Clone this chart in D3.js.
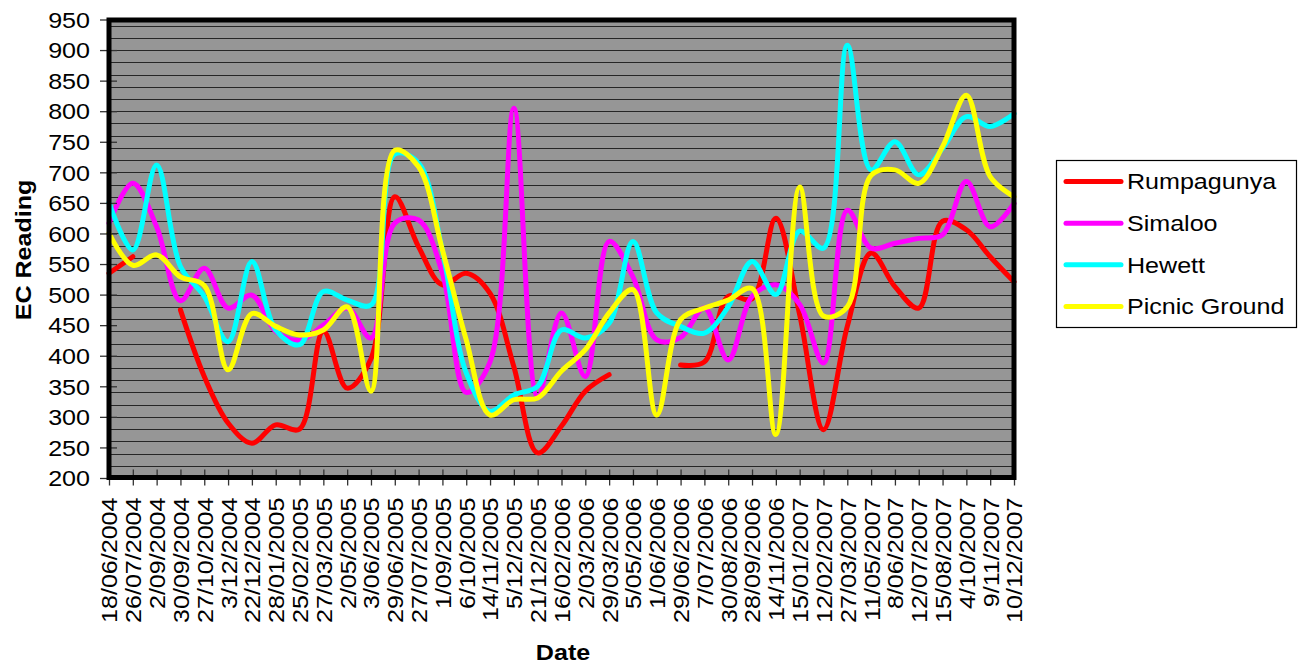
<!DOCTYPE html>
<html>
<head>
<meta charset="utf-8">
<script src="https://cdn.jsdelivr.net/npm/d3@7"></script>
<style>
body { margin: 0; background: #fff; }
text { font-family: "Liberation Sans", Arial, sans-serif; fill: #000; }
</style>
</head>
<body>
<svg id="chart" width="1304" height="666"></svg>
<script>
let dates = ['18/06/2004', '26/07/2004', '2/09/2004', '30/09/2004', '27/10/2004', '3/12/2004', '22/12/2004',
    '28/01/2005', '25/02/2005', '27/03/2005', '2/05/2005', '3/06/2005', '29/06/2005', '27/07/2005', '1/09/2005',
    '6/10/2005', '14/11/2005', '5/12/2005', '21/12/2005', '16/02/2006', '2/03/2006', '29/03/2006', '5/05/2006',
    '1/06/2006', '29/06/2006', '7/07/2006', '30/08/2006', '28/09/2006', '14/11/2006', '15/01/2007', '12/02/2007',
    '27/03/2007', '11/05/2007', '8/06/2007', '12/07/2007', '15/08/2007', '4/10/2007', '9/11/2007', '10/12/2007']

let yTicks = [200, 250, 300, 350, 400, 450, 500, 550, 600, 650, 700, 750, 800, 850, 900, 950]

let rumpagunya = [535, 562, null, 475, 366, 290, 257, 287, 280, 440, 347, 395, 660, 578, 516, 535, 502, 382, 241,
    285, 342, 369, null, null, 385, 390, 497, 493, 625, 467, 279, 448, 568, 513, 478, 620, 606, 562, 521]
let simaloo = [617, 682, 611, 490, 543, 478, 499, 440, 425, 450, 478, 429, 617, 622, 535, 340, 390, 805, 333,
    470, 366, 587, 529, 426, 430, 478, 393, 497, 516, 484, 388, 638, 576, 584, 592, 598, 685, 611, 649]
let hewett = [650, 573, 712, 546, 497, 423, 554, 442, 418, 505, 491, 483, 730, 715, 572, 372, 309, 336, 350,
    442, 429, 453, 587, 470, 448, 437, 480, 554, 500, 604, 576, 908, 704, 750, 696, 739, 791, 775, 796]
let picnicGround = [600, 548, 565, 529, 515, 377, 469, 448, 434, 442, 480, 342, 736, 709, 573, 426, 303, 328, 331,
    375, 410, 470, 508, 303, 459, 478, 491, 510, 271, 676, 465, 480, 695, 704, 682, 742, 826, 693, 660]

let series = [
    { name: 'Rumpagunya', values: rumpagunya, color: '#ff0000' },
    { name: 'Simaloo', values: simaloo, color: '#ff00ff' },
    { name: 'Hewett', values: hewett, color: '#00ffff' },
    { name: 'Picnic Ground', values: picnicGround, color: '#ffff00' }
]

let plot = { left: 109, right: 1014, top: 19.5, bottom: 478 }
let stretch = 'scale(1.14,1)'

let svg = d3.select('#chart')

let xScale = d3.scalePoint()
    .domain(dates)
    .range([plot.left, plot.right])

let yScale = d3.scaleLinear()
    .domain([200, 950])
    .range([plot.bottom, plot.top])

// plot background
svg.append('rect')
    .attr('x', plot.left)
    .attr('y', 20)
    .attr('width', plot.right - plot.left)
    .attr('height', 477.5 - 20)
    .attr('fill', '#969696')

// minor + major gridlines every 25
svg.append('g')
    .selectAll('line')
    .data(yScale.ticks(30))
    .enter()
    .append('line')
    .attr('x1', plot.left)
    .attr('x2', plot.right)
    .attr('y1', d => Math.round(yScale(d)) + 0.5)
    .attr('y2', d => Math.round(yScale(d)) + 0.5)
    .attr('stroke', '#262626')
    .attr('stroke-width', 1.2)

let line = d3.line()
    .defined(d => d != null)
    .x((d, i) => xScale(dates[i]))
    .y(d => yScale(d))
    .curve(d3.curveCatmullRom.alpha(0.5))

svg.append('g')
    .selectAll('path')
    .data(series)
    .enter()
    .append('path')
    .attr('d', d => line(d.values))
    .attr('fill', 'none')
    .attr('stroke', d => d.color)
    .attr('stroke-width', 5)
    .attr('stroke-linejoin', 'round')
    .attr('stroke-linecap', 'round')

// y axis
let yAxis = svg.append('g')
    .attr('transform', `translate(${plot.left},0)`)
    .call(d3.axisLeft(yScale).tickValues(yTicks).tickSize(0))
yAxis.select('.domain').remove()
yAxis.selectAll('.tick line').attr('x1', -9).attr('x2', 8).attr('stroke', '#333').attr('stroke-width', 1.3)
yAxis.selectAll('.tick text')
    .attr('x', 0)
    .attr('dy', '0.35em')
    .attr('transform', `translate(-19,0) ${stretch}`)
    .style('font-size', '22px')
    .style('font-family', '"Liberation Sans", Arial, sans-serif')

// x axis
let xAxis = svg.append('g')
    .attr('transform', 'translate(0,477.5)')
    .call(d3.axisBottom(xScale).tickSize(0))
xAxis.select('.domain').remove()
xAxis.selectAll('.tick line').attr('y1', -8).attr('y2', 8).attr('stroke', '#333').attr('stroke-width', 1.3)
xAxis.selectAll('.tick text')
    .attr('x', 0)
    .attr('y', 0)
    .attr('dy', '0.36em')
    .attr('text-anchor', 'end')
    .attr('transform', `translate(0,20) rotate(-90) ${stretch}`)
    .style('font-size', '22px')
    .style('font-family', '"Liberation Sans", Arial, sans-serif')

// plot border
svg.append('rect')
    .attr('x', plot.left)
    .attr('y', 20)
    .attr('width', plot.right - plot.left)
    .attr('height', 477.5 - 20)
    .attr('fill', 'none')
    .attr('stroke', '#000')
    .attr('stroke-width', 5)

// axis titles
svg.append('text')
    .attr('transform', `translate(23,250) rotate(-90) ${stretch}`)
    .attr('dy', '0.35em')
    .attr('text-anchor', 'middle')
    .style('font-size', '22px')
    .style('font-weight', 'bold')
    .text('EC Reading')

svg.append('text')
    .attr('transform', `translate(563,660) ${stretch}`)
    .attr('text-anchor', 'middle')
    .style('font-size', '22px')
    .style('font-weight', 'bold')
    .text('Date')

// legend
let legendY = d3.scalePoint()
    .domain(series.map(d => d.name))
    .range([181.5, 306.5])

let legend = svg.append('g')
legend.append('rect')
    .attr('x', 1056.5)
    .attr('y', 160.5)
    .attr('width', 240)
    .attr('height', 167)
    .attr('fill', '#fff')
    .attr('stroke', '#000')
    .attr('stroke-width', 1.2)

let items = legend.selectAll('.item')
    .data(series)
    .enter()
    .append('g')
    .attr('class', 'item')
    .attr('transform', d => `translate(0,${legendY(d.name)})`)

items.append('line')
    .attr('x1', 1066)
    .attr('x2', 1121)
    .attr('stroke', d => d.color)
    .attr('stroke-width', 5)
    .attr('stroke-linecap', 'round')

items.append('text')
    .attr('transform', `translate(1127,0) ${stretch}`)
    .attr('dy', '0.35em')
    .style('font-size', '22px')
    .text(d => d.name)
</script>
</body>
</html>
